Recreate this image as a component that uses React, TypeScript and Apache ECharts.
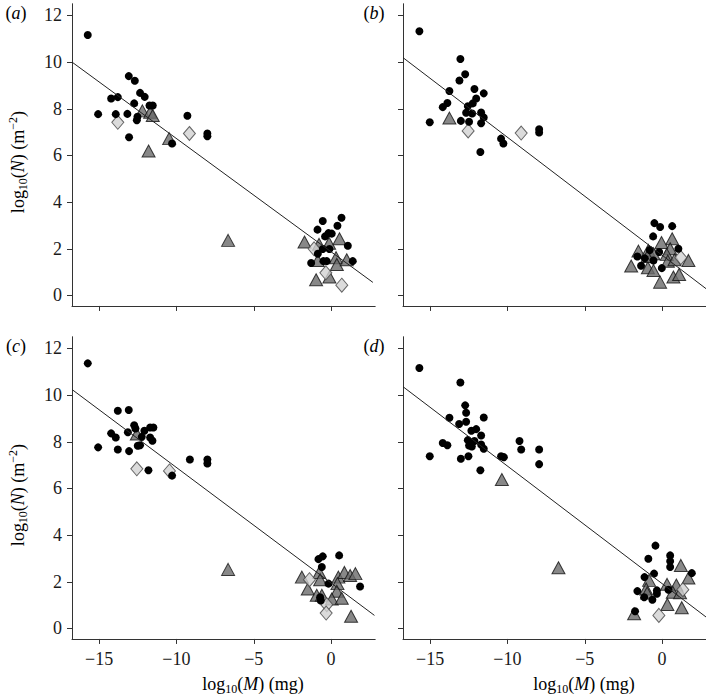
import React, { useEffect, useRef } from "react";
import * as echarts from "echarts";

// ---------- data ----------
const xTicks = [-15, -10, -5, 0];
const yTicks = [0, 2, 4, 6, 8, 10, 12];

const circlesA = [[-15.73,11.16],[-13.08,9.40],[-12.69,9.20],[-14.22,8.44],[-13.79,8.50],[-12.35,8.68],[-12.05,8.51],[-12.73,8.23],[-11.74,8.14],[-11.53,8.14],[-15.06,7.77],[-13.92,7.77],[-13.17,7.78],[-12.52,7.66],[-12.56,7.51],[-9.29,7.70],[-8.0,6.94],[-8.0,6.82],[-13.06,6.78],[-10.28,6.51],
  [-0.54,3.19],[0.67,3.33],[0.41,2.99],[-0.88,2.82],[-0.17,2.67],[0.04,2.65],[-0.39,2.53],[1.08,2.13],[-0.54,1.99],[-0.11,1.99],[-0.86,1.79],[-1.29,1.39],[-0.5,1.47],[-0.28,1.47],[1.40,1.47]];
const trianglesA = [[-12.2,7.91],[-11.7,7.85],[-11.53,7.71],[-10.47,6.72],[-11.8,6.19],[-6.66,2.36],[-1.72,2.29],[-0.78,2.19],[-0.13,2.24],[0.54,2.43],[0.32,1.62],[0.37,1.33],[1.01,1.53],[-0.86,1.5],[-0.97,0.67],[-0.11,0.79]];
const diamondsA = [[-13.79,7.42],[-9.16,6.94],[-1.1,2.0],[-0.34,0.97],[0.69,0.44]];
const fitA = [[-16.75,10.0],[2.7,0.56]];

const circlesB = [[-15.69,11.32],[-13.04,10.13],[-12.73,9.48],[-13.1,9.21],[-13.75,8.76],[-12.13,8.85],[-11.53,8.66],[-12.02,8.44],[-13.88,8.25],[-14.18,8.07],[-12.24,8.23],[-12.56,8.11],[-12.67,7.83],[-12.28,7.80],[-11.7,7.84],[-11.53,7.63],[-15.02,7.42],[-13.01,7.48],[-12.48,7.44],[-11.7,7.38],[-7.95,7.12],[-7.95,6.98],[-10.41,6.72],[-10.26,6.51],[-11.75,6.15],
  [-0.5,3.10],[-0.13,2.93],[0.65,2.97],[-0.58,2.53],[1.05,2.0],[-0.19,1.86],[-1.6,1.67],[-1.12,1.59],[-0.56,1.5],[-1.36,1.27],[-0.02,1.17],[-0.8,1.95]];
const trianglesB = [[-13.75,7.6],[0.65,2.43],[-0.04,2.27],[0.52,2.0],[0.3,1.76],[-1.53,1.9],[-0.89,1.93],[-0.56,1.79],[-0.95,1.67],[-2.0,1.26],[-0.92,1.19],[-0.56,1.07],[0.37,1.47],[0.8,1.53],[1.7,1.5],[-0.13,0.57],[0.73,0.79],[1.1,0.9]];
const diamondsB = [[-12.54,7.05],[-9.11,6.96],[1.21,1.62]];
const fitB = [[-16.75,10.19],[2.84,0.29]];

const circlesC = [[-15.73,11.36],[-13.79,9.33],[-13.08,9.36],[-12.73,8.71],[-12.65,8.57],[-11.7,8.61],[-11.49,8.61],[-12.07,8.47],[-13.14,8.41],[-14.22,8.36],[-13.92,8.18],[-12.24,8.21],[-11.7,8.18],[-11.55,8.04],[-12.5,7.83],[-12.35,7.85],[-15.06,7.76],[-13.79,7.67],[-13.06,7.6],[-9.13,7.24],[-8.0,7.24],[-8.0,7.07],[-11.81,6.78],[-10.28,6.55],
  [-0.54,3.09],[-0.82,2.97],[0.52,3.13],[-0.6,2.63],[-0.17,1.92],[1.87,1.8],[-0.67,1.2],[-0.71,1.34]];
const trianglesC = [[-12.56,8.33],[-6.66,2.53],[-1.89,2.2],[-0.76,2.4],[-0.71,2.09],[-1.51,1.69],[0.47,2.2],[0.86,2.4],[1.23,2.27],[1.57,2.35],[0.41,1.92],[-0.93,1.42],[-0.6,1.42],[0.37,1.59],[0.04,1.26],[0.69,1.29],[1.29,0.52]];
const diamondsC = [[-12.56,6.84],[-10.45,6.75],[-1.4,2.09],[-0.28,1.02],[-0.32,0.66]];
const fitC = [[-16.75,10.24],[2.8,0.56]];

const circlesD = [[-15.69,11.16],[-13.04,10.54],[-12.73,9.56],[-12.67,9.24],[-13.75,9.03],[-11.53,9.04],[-12.67,8.86],[-13.12,8.76],[-12.02,8.54],[-12.33,8.47],[-11.7,8.27],[-12.56,8.07],[-12.13,8.03],[-14.18,7.95],[-13.88,7.85],[-12.48,7.84],[-12.3,7.8],[-11.7,7.88],[-11.53,7.7],[-9.22,8.03],[-9.11,7.67],[-7.95,7.67],[-7.95,7.04],[-15.02,7.38],[-13.01,7.27],[-12.52,7.38],[-10.41,7.38],[-10.23,7.34],[-11.75,6.78],
  [-0.43,3.55],[-0.89,2.99],[0.52,3.13],[0.52,2.88],[0.52,2.63],[1.92,2.37],[-0.52,2.35],[-1.14,2.2],[-1.6,1.6],[-0.34,1.63],[-0.34,1.49],[-1.16,1.34],[-0.63,1.23],[0.41,1.66],[-1.75,0.74]];
const trianglesD = [[-10.36,6.38],[-6.7,2.6],[1.21,2.7],[1.7,2.16],[-0.84,2.06],[0.32,1.89],[0.92,1.86],[-1.03,1.69],[-0.97,1.52],[0.69,1.55],[1.16,1.53],[0.34,1.03],[1.27,0.89],[-1.81,0.63]];
const diamondsD = [[1.34,1.66],[-0.21,0.56]];
const fitD = [[-16.75,10.36],[2.84,0.49]];

const panelLetters = ["a", "b", "c", "d"];

// ---------- layout / style ----------
const SERIF = "Liberation Serif";
const TXT = "#1a1a1a";
const grids = [
  { left: 72, top: 3.75, width: 303.2, height: 302.2 },
  { left: 403, top: 3.75, width: 303.2, height: 302.2 },
  { left: 72, top: 336.75, width: 303.2, height: 302.2 },
  { left: 403, top: 336.75, width: 303.2, height: 302.2 },
];
const panels = [
  { c: circlesA, t: trianglesA, d: diamondsA, f: fitA },
  { c: circlesB, t: trianglesB, d: diamondsB, f: fitB },
  { c: circlesC, t: trianglesC, d: diamondsC, f: fitC },
  { c: circlesD, t: trianglesD, d: diamondsD, f: fitD },
];

const fmt = (v: number) => (v < 0 ? "\u2212" + Math.abs(v) : String(v));

const rich = {
  n: { fontSize: 18, fontFamily: SERIF, color: TXT, lineHeight: 22 },
  i: { fontSize: 18, fontFamily: SERIF, color: TXT, lineHeight: 22, fontStyle: "italic" },
  sb: { fontSize: 12, fontFamily: SERIF, color: TXT, lineHeight: 12, verticalAlign: "bottom" },
  sp: { fontSize: 12, fontFamily: SERIF, color: TXT, lineHeight: 12, verticalAlign: "top" },
};

export default function App() {
  const ref = useRef<HTMLDivElement>(null);
  useEffect(() => {
    if (!ref.current) return;
    const chart = echarts.init(ref.current, undefined, { renderer: "svg" });

    const xAxis = grids.map((_, k) => ({
      type: "value",
      gridIndex: k,
      min: -16.75,
      max: 2.85,
      axisLine: { show: true, onZero: false, lineStyle: { color: "#333", width: 1 } },
      axisTick: { show: true, length: 5, inside: false, customValues: xTicks, lineStyle: { color: "#333" } },
      axisLabel: {
        show: k >= 2,
        customValues: xTicks,
        formatter: fmt,
        fontFamily: SERIF,
        fontSize: 18,
        color: TXT,
        margin: 11,
      },
      splitLine: { show: false },
    }));
    const yAxis = grids.map((_, k) => ({
      type: "value",
      gridIndex: k,
      min: -0.45,
      max: 12.5,
      axisLine: { show: true, onZero: false, lineStyle: { color: "#333", width: 1 } },
      axisTick: { show: true, length: 5, inside: false, customValues: yTicks, lineStyle: { color: "#333" } },
      axisLabel: {
        show: k % 2 === 0,
        customValues: yTicks,
        formatter: fmt,
        fontFamily: SERIF,
        fontSize: 18,
        color: TXT,
        margin: 10,
      },
      splitLine: { show: false },
    }));

    const series: any[] = [];
    panels.forEach((p, k) => {
      series.push({
        type: "scatter", xAxisIndex: k, yAxisIndex: k, data: p.t,
        symbol: "triangle", symbolSize: [13, 12],
        itemStyle: { color: "#6a6a6a", borderColor: "#111", borderWidth: 1 },
      });
      series.push({
        type: "scatter", xAxisIndex: k, yAxisIndex: k, data: p.d,
        symbol: "diamond", symbolSize: [12, 14],
        itemStyle: { color: "#d2d2d2", borderColor: "#444", borderWidth: 1 },
      });
      series.push({
        type: "scatter", xAxisIndex: k, yAxisIndex: k, data: p.c,
        symbol: "circle", symbolSize: 8,
        itemStyle: { color: "#000", opacity: 1 },
      });
      series.push({
        type: "line", xAxisIndex: k, yAxisIndex: k, data: p.f,
        symbol: "none", lineStyle: { color: "#222", width: 1 },
        silent: true,
      });
    });

    const yTitle = "{n|log}{sb|10}{n|(}{i|N}{n|) (m}{sp|\u22122}{n|)}";
    const xTitle = "{n|log}{sb|10}{n|(}{i|M}{n|) (mg)}";
    const graphic: any[] = [
      { type: "text", x: 18, y: 162, rotation: Math.PI / 2, style: { text: yTitle, rich, align: "center", verticalAlign: "middle" } },
      { type: "text", x: 18, y: 495, rotation: Math.PI / 2, style: { text: yTitle, rich, align: "center", verticalAlign: "middle" } },
      { type: "text", x: 253, y: 684, style: { text: xTitle, rich, align: "center", verticalAlign: "middle" } },
      { type: "text", x: 584, y: 684, style: { text: xTitle, rich, align: "center", verticalAlign: "middle" } },
    ];
    const letterPos = [[16, 13], [374, 13], [16, 346], [374, 346]];
    panelLetters.forEach((l, k) => {
      graphic.push({
        type: "text", x: letterPos[k][0], y: letterPos[k][1],
        style: { text: `{n|(}{i|${l}}{n|)}`, rich, align: "center", verticalAlign: "middle" },
      });
    });

    chart.setOption({
      animation: false,
      backgroundColor: "#fff",
      grid: grids.map((g) => ({ ...g, containLabel: false, outerBoundsMode: "none" })),
      xAxis,
      yAxis,
      series,
      graphic,
    });
    return () => chart.dispose();
  }, []);
  return (
    <div
      ref={ref}
      style={{ position: "absolute", left: 0, top: 0, width: 706, height: 700 }}
    />
  );
}
